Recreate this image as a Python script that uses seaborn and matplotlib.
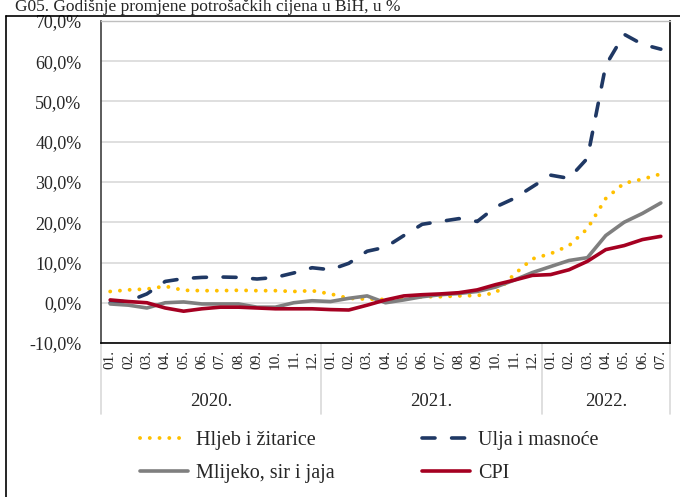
import numpy as np
import pandas as pd
import matplotlib
matplotlib.use("Agg")
import matplotlib.pyplot as plt
import seaborn as sns
from matplotlib.lines import Line2D

# ---- data ----
months = ["01.", "02.", "03.", "04.", "05.", "06.", "07.", "08.", "09.", "10.", "11.", "12.",
          "01.", "02.", "03.", "04.", "05.", "06.", "07.", "08.", "09.", "10.", "11.", "12.",
          "01.", "02.", "03.", "04.", "05.", "06.", "07."]
years = ["2020.", "2021.", "2022."]
year_counts = [12, 12, 7]

hljeb = [2.8, 3.2, 3.4, 4.1, 3.1, 3.0, 3.0, 3.1, 3.0, 3.0, 2.8, 3.0, 2.2, 1.1, 0.9, 0.8,
         1.1, 1.5, 1.5, 1.7, 1.8, 2.4, 7.0, 10.9, 12.2, 14.2, 18.4, 25.9, 29.7, 30.7, 32.0]
ulja = [0.0, 0.4, 2.2, 5.3, 6.0, 6.3, 6.4, 6.3, 5.9, 6.3, 7.4, 8.7, 8.2, 9.8, 12.8, 13.8,
        16.7, 19.5, 20.2, 20.9, 20.2, 23.8, 25.9, 28.8, 31.7, 30.9, 35.9, 59.0, 66.7, 64.2, 63.0]
mlijeko = [-0.3, -0.6, -1.3, 0.0, 0.2, -0.3, -0.3, -0.3, -1.1, -1.1, 0.0, 0.5, 0.3, 1.1, 1.7, 0.0,
           0.7, 1.5, 2.0, 2.3, 2.8, 3.9, 5.6, 7.5, 9.0, 10.5, 11.2, 16.7, 20.0, 22.2, 24.8]
cpi = [0.7, 0.3, 0.0, -1.3, -2.1, -1.5, -1.1, -1.1, -1.3, -1.5, -1.5, -1.5, -1.7, -1.8, -0.6, 0.7,
       1.7, 2.0, 2.2, 2.5, 3.2, 4.5, 5.6, 6.8, 7.0, 8.2, 10.3, 13.2, 14.2, 15.7, 16.5]

series_names = ["Hljeb i žitarice", "Ulja i masnoće", "Mlijeko, sir i jaja", "CPI"]
series_vals = [hljeb, ulja, mlijeko, cpi]
colors = ["#FFC000", "#1F3864", "#7F7F7F", "#A50021"]

# ---- style ----
sns.set_theme(style="white")
SERIF = ["Liberation Serif", "DejaVu Serif"]
plt.rcParams["font.family"] = SERIF

W, H = 680, 497
fig = plt.figure(figsize=(W / 100, H / 100), dpi=100)
L, R, T, B = 101, 670, 21, 343
ax = fig.add_axes([L / W, 1 - B / H, (R - L) / W, (B - T) / H])

x = np.arange(len(months))
df = pd.DataFrame({"x": np.tile(x, 4),
                   "v": np.concatenate(series_vals),
                   "s": np.repeat(series_names, len(x))})

styles = {
    "Hljeb i žitarice": dict(dashes=(0.01, 2.5), cap="round", lw=2.8),
    "Ulja i masnoće": dict(dashes=(3.6, 4.6), cap="round", lw=2.6),
    "Mlijeko, sir i jaja": dict(dashes=None, cap="butt", lw=2.6),
    "CPI": dict(dashes=None, cap="butt", lw=2.6),
}

for name, col in zip(series_names, colors):
    sub = df[df["s"] == name]
    st = styles[name]
    sns.lineplot(data=sub, x="x", y="v", ax=ax, color=col, linewidth=st["lw"], legend=False)
    line = ax.lines[-1]
    if st["dashes"] is not None:
        line.set_dashes(st["dashes"])
    line.set_dash_capstyle(st["cap"])
    line.set_solid_capstyle("round")

ax.set_xlim(-0.5, len(x) - 0.5)
ax.set_ylim(-10, 70)
ax.set_yticks(np.arange(-10, 71, 10))
ax.set_yticklabels([f"{v:.1f}%".replace(".", ",") for v in np.arange(-10, 71, 10)],
                   fontsize=13, family=SERIF)
ax.set_xticks(x)
ax.set_xticklabels(months, rotation=90, fontsize=11, va="top", family=SERIF)
ax.tick_params(axis="x", length=0, pad=5)
ax.tick_params(axis="y", length=0, pad=14)
ax.set_xlabel("")
ax.set_ylabel("")
ax.yaxis.grid(True, color="#D9D9D9", linewidth=1.2)
ax.xaxis.grid(False)
ax.set_axisbelow(True)

for sp in ["left", "bottom", "right"]:
    ax.spines[sp].set_color("#000000")
    ax.spines[sp].set_linewidth(1.2)
ax.spines["left"].set_color("#404040")
ax.spines["top"].set_color("#BFBFBF")
ax.spines["top"].set_linewidth(1.0)

# year separators and labels
trans = ax.get_xaxis_transform()
bounds = [-0.5]
for c in year_counts:
    bounds.append(bounds[-1] + c)
for b in bounds:
    ax.plot([b, b], [0, -0.22], transform=trans, color="#D9D9D9", linewidth=1.2, clip_on=False)
for i, yr in enumerate(years):
    ax.text((bounds[i] + bounds[i + 1]) / 2, -0.183, yr, transform=trans,
            ha="center", va="center", fontsize=13.5, family=SERIF)

# legend
handles = []
order = [0, 2, 1, 3]
for k in order:
    name = series_names[k]
    st = styles[name]
    h = Line2D([], [], color=colors[k], linewidth=st["lw"])
    if st["dashes"] is not None:
        h.set_dashes(st["dashes"])
    h.set_dash_capstyle(st["cap"])
    handles.append(h)
fig.legend(handles=handles, labels=[series_names[k] for k in order], ncol=2,
           loc="center left", bbox_to_anchor=(140 / W, 1 - 457 / H), frameon=False,
           prop=dict(family=SERIF, size=14.5), handlelength=2.4, handletextpad=0.4,
           columnspacing=4.3, labelspacing=0.65, borderaxespad=0, borderpad=0)

# title and outer frame
fig.text(15 / W, 1 - 15 / H, "G05. Godišnje promjene potrošačkih cijena u BiH, u %",
         ha="left", va="bottom", fontsize=12.5, family=SERIF)
fig.add_artist(Line2D([6 / W, 1.0], [1 - 16 / H, 1 - 16 / H], color="#000000", linewidth=1.2))
fig.add_artist(Line2D([6 / W, 6 / W], [0, 1 - 16 / H], color="#000000", linewidth=1.2))

fig.savefig("out.png", dpi=100)
